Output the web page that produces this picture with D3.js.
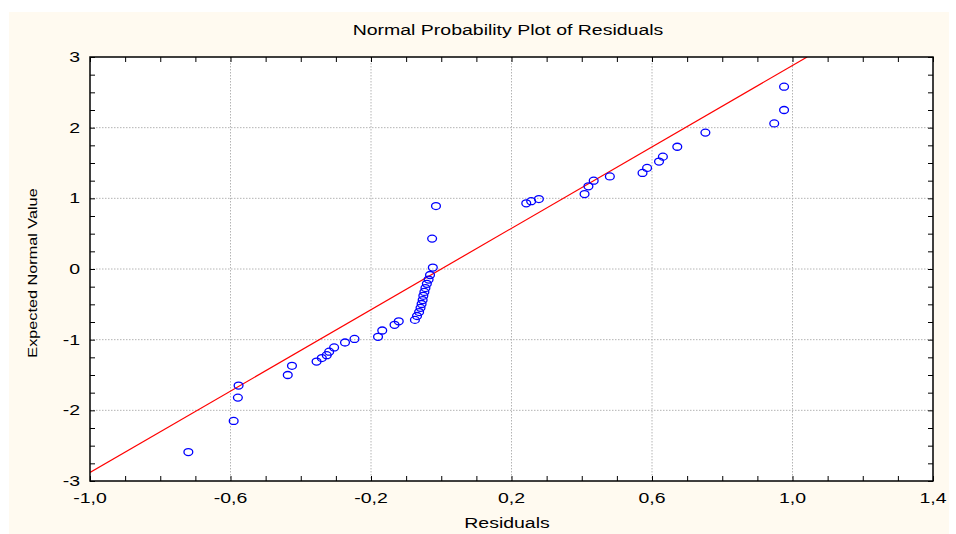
<!DOCTYPE html>
<html>
<head>
<meta charset="utf-8">
<script src="https://cdn.jsdelivr.net/npm/d3@7"></script>
<style>
body { margin: 0; background: #fff; }
text { font-family: 'Liberation Sans', Arial, sans-serif; fill: #000; }
.grid line { stroke: #b4b4b4; stroke-dasharray: 1.5,1.5; }
</style>
</head>
<body>
<div id="chart"></div>
<script>
// residuals (x) and expected normal values (y)
var residuals = [-0.720, -0.591, -0.579, -0.577, -0.437, -0.425, -0.355, -0.340, -0.326, -0.319,
  -0.305, -0.274, -0.247, -0.180, -0.168, -0.133, -0.121,
  -0.075, -0.069, -0.063, -0.059, -0.056, -0.053, -0.051, -0.048, -0.045, -0.041, -0.036, -0.032, -0.024,
  -0.026, -0.015, 0.242, 0.256, 0.278, 0.408, 0.419, 0.434, 0.480, 0.573,
  0.586, 0.620, 0.631, 0.672, 0.752, 0.948, 0.976, 0.976];
var expected = [-2.59, -2.15, -1.82, -1.65, -1.50, -1.37, -1.31, -1.26, -1.22, -1.17,
  -1.11, -1.04, -0.99, -0.96, -0.87, -0.79, -0.74,
  -0.72, -0.665, -0.61, -0.55, -0.495, -0.44, -0.38, -0.325, -0.27, -0.21, -0.15, -0.085, 0.02,
  0.43, 0.89, 0.93, 0.96, 0.99, 1.06, 1.17, 1.25, 1.31, 1.36,
  1.43, 1.52, 1.59, 1.73, 1.93, 2.06, 2.25, 2.58];

var xTicks = [-1.0, -0.6, -0.2, 0.2, 0.6, 1.0, 1.4];
var yTicks = [-3, -2, -1, 0, 1, 2, 3];
var xMinor = d3.range(-1.0, 1.4001, 0.1);
var yMinor = d3.range(-3, 3.001, 0.25);

// fitted line y = a + b * x
var lineIntercept = 0.0;
var lineSlope = 2.88;

var margin = { top: 57, left: 90, bottom: 53, right: 23 },
  width = 956 - margin.left - margin.right,
  height = 534 - margin.top - margin.bottom;

// the original font is drawn wide, so text gets stretched sideways
var stretch = 1.3;

var root = d3.select('#chart').append('svg')
  .attr('width', 956)
  .attr('height', 534);

root.append('rect')
  .attr('x', 9).attr('y', 12)
  .attr('width', 940).attr('height', 522)
  .attr('fill', '#fffaf0');

var svg = root.append('g')
  .attr('transform', 'translate(' + margin.left + ',' + margin.top + ')');

var x = d3.scaleLinear().domain([-1.0, 1.4]).range([0, width]);
var y = d3.scaleLinear().domain([-3, 3]).range([height, 0]);

svg.append('rect')
  .attr('width', width).attr('height', height)
  .attr('fill', '#fff');

// grid
var grid = svg.append('g').attr('class', 'grid');
grid.selectAll('.gx')
  .data(xTicks.slice(1, -1))
  .enter().append('line')
  .attr('x1', d => x(d)).attr('x2', d => x(d))
  .attr('y1', 0).attr('y2', height);
grid.selectAll('.gy')
  .data(yTicks.slice(1, -1))
  .enter().append('line')
  .attr('y1', d => y(d)).attr('y2', d => y(d))
  .attr('x1', 0).attr('x2', width);

var fmt = d => d3.format('.1f')(d).replace('.', ',').replace('\u2212', '-');

// axes, ticks pointing inwards on all four sides
var tickLen = 5;
svg.append('g')
  .attr('transform', 'translate(0,' + height + ')')
  .call(d3.axisBottom(x).tickValues(xMinor).tickSize(-tickLen).tickFormat(''))
  .call(g => g.select('.domain').remove());
svg.append('g')
  .call(d3.axisTop(x).tickValues(xMinor).tickSize(-tickLen).tickFormat(''))
  .call(g => g.select('.domain').remove());
svg.append('g')
  .call(d3.axisLeft(y).tickValues(yMinor).tickSize(-tickLen).tickFormat(''))
  .call(g => g.select('.domain').remove());
svg.append('g')
  .attr('transform', 'translate(' + width + ',0)')
  .call(d3.axisRight(y).tickValues(yMinor).tickSize(-tickLen).tickFormat(''))
  .call(g => g.select('.domain').remove());

function label(parent, px, py, txt, anchor, size, rot) {
  parent.append('text')
    .attr('transform', 'translate(' + px + ',' + py + ')' + (rot ? ' rotate(' + rot + ')' : '') + ' scale(' + stretch + ',1)')
    .attr('text-anchor', anchor)
    .style('font-size', size)
    .text(txt);
}

xTicks.forEach(d => label(svg, x(d), height + 22, fmt(d), 'middle', '15px'));
yTicks.forEach(d => label(svg, -10, y(d) + 5, String(d), 'end', '15px'));

// fitted line, clipped to plot area
svg.append('clipPath').attr('id', 'clip')
  .append('rect').attr('width', width).attr('height', height);

var lx0 = -1.0, lx1 = (3 - lineIntercept) / lineSlope;
svg.append('line')
  .attr('clip-path', 'url(#clip)')
  .attr('x1', x(lx0)).attr('y1', y(lineIntercept + lineSlope * lx0))
  .attr('x2', x(lx1)).attr('y2', y(lineIntercept + lineSlope * lx1))
  .attr('stroke', '#ff0000')
  .attr('stroke-width', 1.2);

// points
svg.selectAll('.pt')
  .data(residuals.map((r, i) => ({ r: r, e: expected[i] })))
  .enter().append('ellipse')
  .attr('cx', d => x(d.r))
  .attr('cy', d => y(d.e))
  .attr('rx', 4.4)
  .attr('ry', 3.5)
  .attr('fill', 'none')
  .attr('stroke', '#0000ff')
  .attr('stroke-width', 1.3);

// frame
svg.append('rect')
  .attr('width', width).attr('height', height)
  .attr('fill', 'none')
  .attr('stroke', '#000')
  .attr('stroke-width', 1.5);

// titles
label(root, 508, 35, 'Normal Probability Plot of Residuals', 'middle', '15px');
label(root, 507, 528, 'Residuals', 'middle', '15px');
label(root, 37, 273, 'Expected Normal Value', 'middle', '12.5px', -90);
</script>
</body>
</html>
